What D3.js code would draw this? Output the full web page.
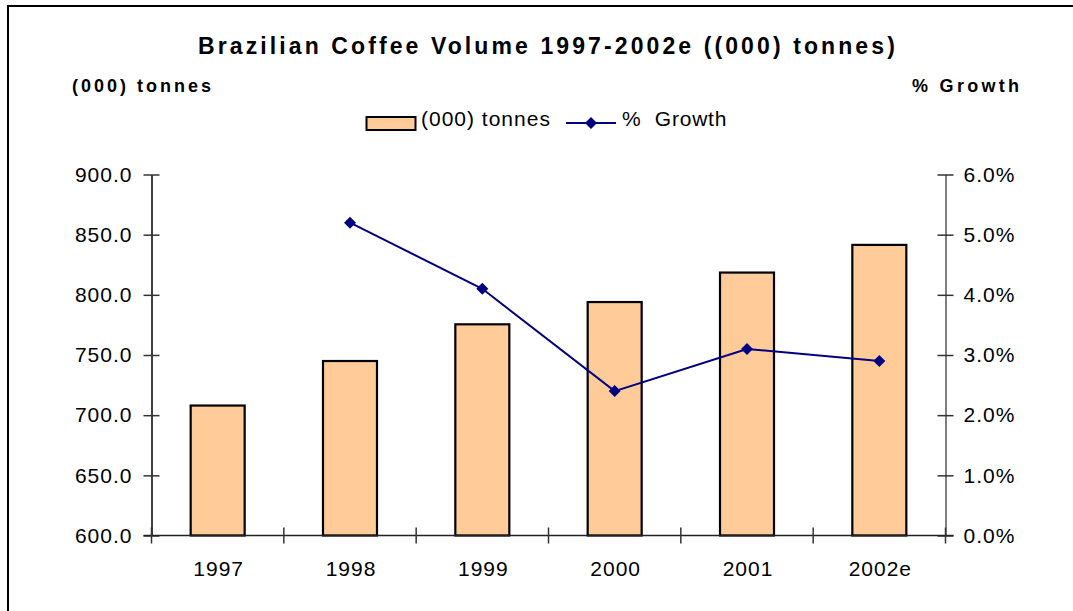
<!DOCTYPE html>
<html>
<head>
<meta charset="utf-8">
<script src="https://cdn.jsdelivr.net/npm/d3@7"></script>
<style>
  html, body { margin: 0; padding: 0; background: #fff; }
  svg { display: block; font-family: Arial, "Liberation Sans", sans-serif; }
</style>
</head>
<body>
<svg id="chart" width="1073" height="611"></svg>
<script>
// Volume by year with year-on-year growth
const categories = ["1997", "1998", "1999", "2000", "2001", "2002e"];
const tonnes = [708, 745, 775.5, 794, 818.5, 841.5];
const growth = [null, 5.2, 4.1, 2.4, 3.1, 2.9];
const leftTicks = [600, 650, 700, 750, 800, 850, 900];
const rightTicks = [0, 1, 2, 3, 4, 5, 6];

const svg = d3.select("#chart");

// outer frame
svg.append("rect")
  .attr("x", 8).attr("y", 6)
  .attr("width", 1100).attr("height", 640)
  .attr("fill", "none").attr("stroke", "#000").attr("stroke-width", 2);

const plot = { left: 151.5, right: 945.5, top: 174.5, bottom: 535.5 };

const x = d3.scaleBand().domain(categories).range([plot.left, plot.right]).paddingInner(0).paddingOuter(0);
const yL = d3.scaleLinear().domain([600, 900]).range([plot.bottom, plot.top]);
const yR = d3.scaleLinear().domain([0, 6]).range([plot.bottom, plot.top]);

// title and axis captions
svg.append("text")
  .attr("x", 548).attr("y", 54)
  .attr("text-anchor", "middle")
  .style("font-size", "23px").style("font-weight", "bold").style("letter-spacing", "3.1px")
  .text("Brazilian Coffee Volume 1997-2002e ((000) tonnes)");

svg.append("text")
  .attr("x", 72).attr("y", 92)
  .style("font-size", "18px").style("font-weight", "bold").style("letter-spacing", "3px")
  .text("(000) tonnes");

svg.append("text")
  .attr("x", 912).attr("y", 92)
  .style("font-size", "18px").style("font-weight", "bold").style("letter-spacing", "3.3px")
  .text("% Growth");

// bars
const barW = 54;
svg.append("g").selectAll("rect")
  .data(categories)
  .join("rect")
  .attr("x", (d) => x(d) + x.bandwidth() / 2 - barW / 2)
  .attr("y", (d, i) => yL(tonnes[i]))
  .attr("width", barW)
  .attr("height", (d, i) => plot.bottom - yL(tonnes[i]))
  .attr("fill", "#FFCC99")
  .attr("stroke", "#000")
  .attr("stroke-width", 2.2);

// left axis
const gL = svg.append("g").attr("transform", `translate(${plot.left},0)`)
  .call(d3.axisLeft(yL).tickValues(leftTicks).tickFormat(d3.format(".1f")).tickSizeInner(8).tickSizeOuter(0).tickPadding(11));
gL.select(".domain").attr("stroke", "#000").attr("stroke-width", 1.5);
gL.selectAll(".tick line").attr("stroke", "#333").attr("stroke-width", 1.5).attr("x2", 8).attr("x1", -8);
gL.selectAll(".tick text").style("font-size", "21px").style("letter-spacing", "1px").attr("fill", "#000");

// right axis
const gR = svg.append("g").attr("transform", `translate(${plot.right},0)`)
  .call(d3.axisRight(yR).tickValues(rightTicks).tickFormat((d) => d3.format(".1f")(d) + "%").tickSizeInner(8).tickSizeOuter(0).tickPadding(10));
gR.select(".domain").attr("stroke", "#555").attr("stroke-width", 1.5);
gR.selectAll(".tick line").attr("stroke", "#333").attr("stroke-width", 1.5).attr("x1", -8).attr("x2", 8);
gR.selectAll(".tick text").style("font-size", "21px").style("letter-spacing", "1px").attr("fill", "#000");

// bottom axis
const xEdges = categories.map((c) => x(c)).concat([plot.right]);
const gB = svg.append("g");
gB.append("line")
  .attr("x1", plot.left - 8).attr("x2", plot.right + 8)
  .attr("y1", plot.bottom).attr("y2", plot.bottom)
  .attr("stroke", "#222").attr("stroke-width", 1.5);
gB.selectAll("line.tk").data(xEdges).join("line")
  .attr("class", "tk")
  .attr("x1", (d) => d).attr("x2", (d) => d)
  .attr("y1", plot.bottom - 8).attr("y2", plot.bottom + 8)
  .attr("stroke", "#333").attr("stroke-width", 1.5);
gB.selectAll("text").data(categories).join("text")
  .attr("x", (d) => x(d) + x.bandwidth() / 2 + 1)
  .attr("y", plot.bottom + 40)
  .attr("text-anchor", "middle")
  .style("font-size", "21px").style("letter-spacing", "1px")
  .text((d) => d);

// growth line
const pts = categories.map((c, i) => ({ c, v: growth[i] })).filter((p) => p.v != null);
const line = d3.line()
  .x((p) => x(p.c) + x.bandwidth() / 2)
  .y((p) => yR(p.v));
svg.append("path")
  .datum(pts)
  .attr("d", line)
  .attr("fill", "none")
  .attr("stroke", "#000080")
  .attr("stroke-width", 2);

const diamond = d3.symbol().type(d3.symbolSquare).size(72);
svg.append("g").selectAll("path")
  .data(pts)
  .join("path")
  .attr("d", diamond)
  .attr("transform", (p) => `translate(${x(p.c) + x.bandwidth() / 2},${yR(p.v)}) rotate(45)`)
  .attr("fill", "#000080");

// legend
const lg = svg.append("g");
lg.append("rect")
  .attr("x", 366.5).attr("y", 117).attr("width", 49).attr("height", 13)
  .attr("fill", "#FFCC99").attr("stroke", "#000").attr("stroke-width", 2);
lg.append("text")
  .attr("x", 421).attr("y", 126)
  .style("font-size", "21px").style("letter-spacing", "1px")
  .text("(000) tonnes");
lg.append("line")
  .attr("x1", 566).attr("x2", 616).attr("y1", 123).attr("y2", 123)
  .attr("stroke", "#000080").attr("stroke-width", 2);
lg.append("path")
  .attr("d", diamond)
  .attr("transform", "translate(591,123) rotate(45)")
  .attr("fill", "#000080");
lg.append("text")
  .attr("x", 622).attr("y", 126)
  .style("font-size", "21px").style("letter-spacing", "0.8px")
  .text("%  Growth")
  .attr("xml:space", "preserve")
  .style("white-space", "pre");
</script>
</body>
</html>
